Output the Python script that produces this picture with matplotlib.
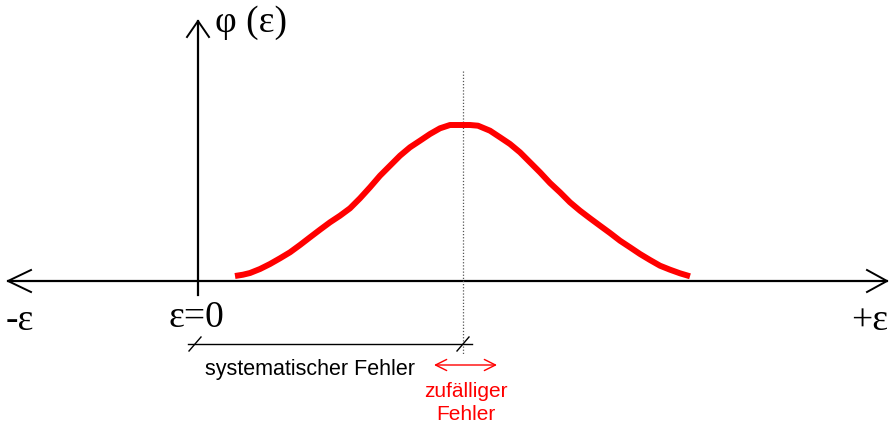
import matplotlib.pyplot as plt

# curve phi(eps) in pixel coordinates (y down)
curve_x = [235, 243, 250, 260, 270, 280, 290, 300, 310, 320, 330, 340, 350, 360,
           370, 380, 390, 400, 410, 420, 430, 440, 450, 460, 470, 478, 490, 500,
           510, 520, 530, 540, 550, 560, 570, 580, 590, 600, 610, 620, 630, 640,
           650, 660, 670, 680, 690]
curve_y = [277, 275.7, 274, 270, 265, 259.3, 253.3, 246, 238.3, 230.7, 223.3, 216.7,
           209.3, 199.3, 188.3, 176.7, 166.7, 156.7, 148.3, 141.7, 135, 129.3, 126,
           126, 126, 126.7, 131.7, 138.3, 145, 153.3, 163.3, 173.3, 184, 193.3, 203.3,
           211.7, 219.3, 226.7, 234, 241.7, 248.3, 255, 261, 266.7, 270.7, 274.3, 277.3]

axis_y = 282      # horizontal axis
zero_x = 198      # eps = 0
peak_x = 463      # mean value (dotted line)
dim_y = 345       # dimension line for the systematic error

serif = ['Liberation Serif', 'DejaVu Serif']
sans = ['Liberation Sans', 'DejaVu Sans']

fig = plt.figure(figsize=(8.9, 4.27), dpi=100)
ax = fig.add_axes([0, 0, 1, 1])
ax.set_xlim(0, 890)
ax.set_ylim(427, 0)
ax.axis('off')

# axes with open arrow heads
ax.plot([8, 887], [axis_y, axis_y], color='black', lw=1.6)
ax.plot([31, 8, 31], [axis_y - 11, axis_y, axis_y + 11], color='black', lw=1.4)
ax.plot([867, 887, 867], [axis_y - 11, axis_y, axis_y + 11], color='black', lw=1.4)
ax.plot([zero_x, zero_x], [296, 22], color='black', lw=1.6)
ax.plot([zero_x - 11, zero_x, zero_x + 11], [38, 22, 38], color='black', lw=1.4)

# dotted line through the maximum
ax.plot([peak_x, peak_x], [72, 356], color='#555555', lw=0.9, ls=(0, (1, 1.5)))

# the distribution
ax.plot(curve_x, curve_y, color='red', lw=4.3, solid_capstyle='butt',
        solid_joinstyle='round')

# dimension line with slash ticks
ax.plot([188, 472], [dim_y, dim_y], color='black', lw=1.0)
for tx in [zero_x - 3, peak_x]:
    ax.plot([tx - 6, tx + 6], [dim_y + 7, dim_y - 7], color='black', lw=1.0)

# red double arrow for the random error
ax.annotate('', xy=(434, 366), xytext=(497, 366),
            arrowprops=dict(arrowstyle='<->', color='red', lw=1.0,
                            mutation_scale=20, shrinkA=0, shrinkB=0))

# texts
ax.text(215, 23, 'φ (ε)', fontsize=27, family=serif, ha='left', va='center')
ax.text(6, 321, '-ε', fontsize=27, family=serif, ha='left', va='center')
ax.text(196, 318, 'ε=0', fontsize=27, family=serif, ha='center', va='center')
ax.text(888, 321, '+ε', fontsize=27, family=serif, ha='right', va='center')
ax.text(310, 370, 'systematischer Fehler', fontsize=15.5, family=sans,
        ha='center', va='center')
ax.text(466, 392, 'zufälliger', fontsize=15, family=sans, color='red',
        ha='center', va='center')
ax.text(466, 415, 'Fehler', fontsize=15, family=sans, color='red',
        ha='center', va='center')

fig.savefig('out.png', dpi=100)
